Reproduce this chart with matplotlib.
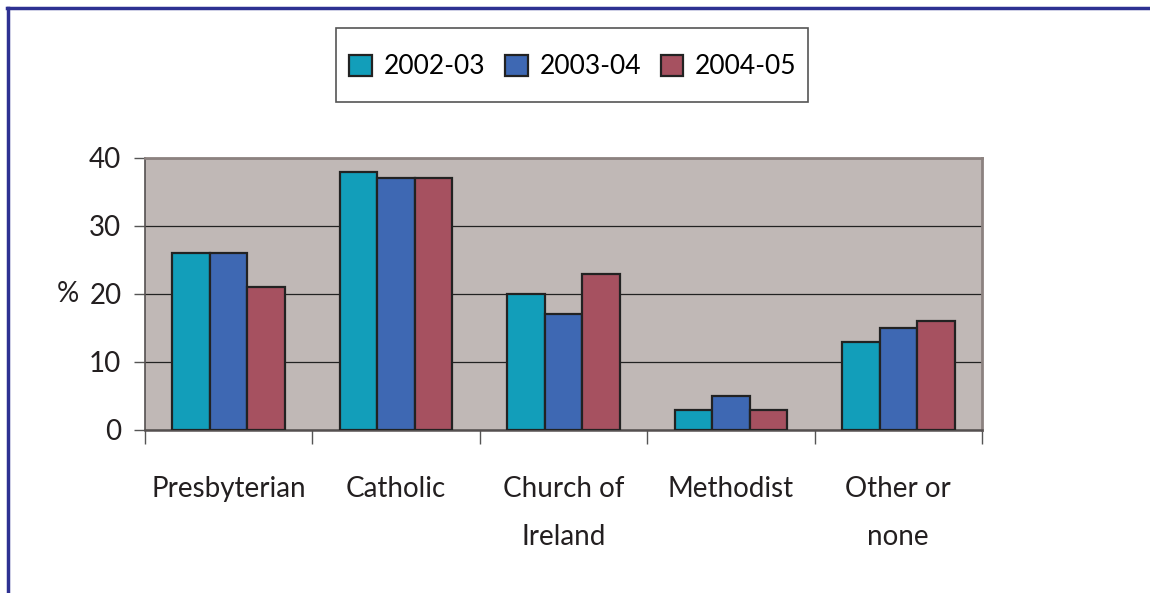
import numpy as np
import matplotlib.pyplot as plt
from matplotlib.lines import Line2D
from matplotlib.patches import Rectangle

plt.rcParams['font.family'] = ['Lato', 'DejaVu Sans']

categories = ['Presbyterian', 'Catholic', 'Church of\nIreland', 'Methodist', 'Other or\nnone']
years = ['2002-03', '2003-04', '2004-05']
vals_0203 = [26, 38, 20, 3, 13]
vals_0304 = [26, 37, 17, 5, 15]
vals_0405 = [21, 37, 23, 3, 16]
colors = ['#129EBA', '#3E68B3', '#A65160']

W, H = 1150, 593
fig = plt.figure(figsize=(W / 100, H / 100), dpi=100)
ax = fig.add_axes([0.1261, 0.2749, 0.7278, 0.4587])
ax.set_facecolor('#C0B8B6')

x = np.arange(len(categories))
w = 0.224
for i, (vals, lab) in enumerate(zip([vals_0203, vals_0304, vals_0405], years)):
  ax.bar(x + (i - 1) * w, vals, width=w, color=colors[i], edgecolor='#222222',
         linewidth=1.6, label=lab, zorder=3)

ax.set_xlim(-0.5, len(categories) - 0.5)
ax.set_ylim(0, 40)
ax.set_yticks([0, 10, 20, 30, 40])
ax.yaxis.grid(True, color='#222222', linewidth=0.9, zorder=1)
ax.set_axisbelow(True)

# category ticks sit on group boundaries, labels in the middle
ax.set_xticks(np.arange(-0.5, len(categories)), minor=False)
ax.set_xticklabels([])
ax.set_xticks(x, minor=True)
ax.set_xticklabels(categories, minor=True, fontsize=20, linespacing=2.05, color='#231F20')
ax.tick_params(axis='x', which='major', length=10, width=1, color='#555555', direction='out')
ax.tick_params(axis='x', which='minor', length=0, pad=33)
ax.tick_params(axis='y', length=8, width=1, color='#555555', labelsize=20, labelcolor='#231F20', pad=9)

for s in ['top', 'right']:
  ax.spines[s].set_color('#8C8280')
  ax.spines[s].set_linewidth(2)
ax.spines['left'].set_color('#555050')
ax.spines['left'].set_linewidth(1.2)
ax.spines['bottom'].set_color('#555050')
ax.spines['bottom'].set_linewidth(1.8)

ax.set_ylabel('%', rotation=0, fontsize=20, color='#231F20', va='center', ha='center')
ax.yaxis.set_label_coords(-0.092, 0.5)

leg = fig.legend(loc='center', bbox_to_anchor=(573 / W, 1 - 67 / H), ncol=3, fontsize=19,
                 frameon=False, handlelength=0.85, handleheight=0.85,
                 handletextpad=0.45, columnspacing=0.75)
for h in leg.legend_handles:
  h.set_edgecolor('#222222')
  h.set_linewidth(1.6)

# legend box
fig.add_artist(Rectangle((336 / W, 1 - 102 / H), 472 / W, 74 / H, transform=fig.transFigure,
                         facecolor='none', edgecolor='#555555', linewidth=1.2))

# navy frame along top and left edges
fig.add_artist(Line2D([7 / W, 1.0], [1 - 7.5 / H, 1 - 7.5 / H], color='#2E3192',
                      linewidth=2.5, transform=fig.transFigure))
fig.add_artist(Line2D([7.5 / W, 7.5 / W], [0, 1 - 7.5 / H], color='#2E3192',
                      linewidth=2.5, transform=fig.transFigure))

fig.savefig('out.png', dpi=100)
